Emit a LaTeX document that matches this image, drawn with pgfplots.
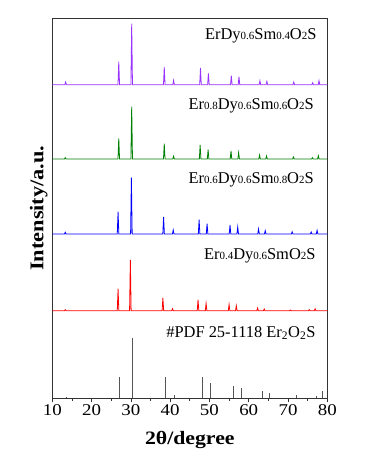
\documentclass[border=0pt]{standalone}
\usepackage{fontspec}
\setmainfont{Liberation Serif}
\newfontfamily\wide{Liberation Serif}[FakeStretch=1.15]
\usepackage{pgfplots}
\usepackage{pgfplotstable}
\pgfplotsset{compat=1.18}
\definecolor{cpur}{RGB}{153,51,255}
\definecolor{cgre}{RGB}{0,128,0}
\definecolor{cblu}{RGB}{0,0,255}
\definecolor{cred}{RGB}{255,0,0}
\definecolor{cpdf}{RGB}{85,85,85}
\newcommand{\s}[1]{{\fontsize{11}{11}\selectfont #1}}

% Er0.4Dy0.6SmO2S (red)
\pgfplotstableread{
x y
10 0
13.1 0
13.3 1
13.5 0
26.54 0
26.74 22
26.94 0
29.67 0
29.87 50.7
30.07 0
37.95 0
38.15 12.7
38.35 0
40.4 0
40.6 2
40.8 0
46.9 0
47.1 11
47.3 0
48.95 0
49.15 7.3
49.35 0
54.8 0
55.0 6.3
55.2 0
56.64 0
56.84 5
57.04 0
62.06 0
62.26 2.7
62.46 0
63.74 0
63.94 1.7
64.14 0
70.4 0
70.6 0.7
70.8 0
75.2 0
75.4 1
75.6 0
76.7 0
76.9 2
77.1 0
80 0
}\redtab

% Er0.6Dy0.6Sm0.8O2S (blue)
\pgfplotstableread{
x y
10 0
13.1 0
13.3 1.7
13.5 0
26.54 0
26.74 22.3
26.94 0
29.93 0
30.13 56.3
30.33 0
38.13 0
38.33 17
38.53 0
40.58 0
40.78 4
40.98 0
47.17 0
47.37 14.3
47.57 0
49.2 0
49.4 10.3
49.6 0
55.04 0
55.24 9
55.44 0
57.0 0
57.2 7
57.4 0
62.3 0
62.5 5
62.7 0
64.0 0
64.2 3.3
64.4 0
70.85 0
71.05 2.3
71.25 0
75.7 0
75.9 2
76.1 0
77.2 0
77.4 3.7
77.6 0
80 0
}\blutab

% Er0.8Dy0.6Sm0.6O2S (green)
\pgfplotstableread{
x y
10 0
13.1 0
13.3 1.3
13.5 0
26.72 0
26.92 20.7
27.12 0
30.01 0
30.21 52.3
30.41 0
38.3 0
38.5 15.3
38.7 0
40.67 0
40.87 2.7
41.07 0
47.43 0
47.63 14
47.83 0
49.46 0
49.66 9.3
49.86 0
55.29 0
55.49 8
55.69 0
57.23 0
57.43 6.3
57.63 0
62.56 0
62.76 4
62.96 0
64.33 0
64.53 3
64.73 0
71.18 0
71.38 2
71.58 0
76.0 0
76.2 1.3
76.4 0
77.52 0
77.72 3.3
77.92 0
80 0
}\gretab

% ErDy0.6Sm0.4O2S (purple)
\pgfplotstableread{
x y
10 0
13.2 0
13.4 2.7
13.6 0
26.72 0
26.92 23
27.12 0
30.01 0
30.21 61
30.41 0
38.3 0
38.5 17.7
38.7 0
40.67 0
40.87 4.3
41.07 0
47.52 0
47.72 16.7
47.92 0
49.54 0
49.74 11.3
49.94 0
55.37 0
55.57 9
55.77 0
57.32 0
57.52 8
57.72 0
62.65 0
62.85 4
63.05 0
64.42 0
64.62 3.3
64.82 0
71.27 0
71.47 2.7
71.67 0
76.08 0
76.28 2
76.48 0
77.69 0
77.89 4
78.09 0
80 0
}\purtab

% PDF 25-1118 Er2O2S reference lines
\pgfplotstableread{
x y
13.47 1.7
27.17 21.3
30.47 60.6
38.9 21.3
41.2 3.3
48.2 21.3
50.25 15.3
56.2 12
58.2 10
63.5 7.3
65.2 5
72.1 3.3
77.1 2.7
78.8 7.3
}\pdftab

\begin{document}
\begin{tikzpicture}
\path[use as bounding box] (0,0) rectangle (374bp,466bp);
\begin{axis}[
  at={(52.3bp,67.7bp)}, anchor=south west,
  scale only axis, width=275bp, height=380.3bp,
  xmin=10, xmax=80, ymin=0, ymax=380.3,
  xtick={10,20,...,80}, minor x tick num=1,
  ytick=\empty, xtick pos=bottom, tick align=outside,
  major tick length=4bp, minor tick length=2.5bp,
  axis line style={line width=0.7bp, black!80},
  every tick/.style={line width=0.7bp, black!80},
  /pgf/number format/assume math mode=true,
  ticklabel style={font=\wide\fontsize{16.5}{18}\selectfont, black},
  xticklabel style={anchor=base, yshift=-13bp},
  xlabel={\textbf{2θ/degree}},
  ylabel={\textbf{Intensity/a.u.}},
  xlabel style={at={([yshift=-46bp]axis description cs:0.5,0)}, anchor=base, font=\wide\fontsize{19}{22}\selectfont},
  ylabel style={at={([xshift=-9bp]axis description cs:0,0.5)}, anchor=base, font=\wide\fontsize{19.5}{22}\selectfont},
  clip=false,
]
\addplot[cred, line width=0.8bp] table[x=x, y expr=\thisrow{y}+87.6] {\redtab};
\addplot[cblu, line width=0.8bp] table[x=x, y expr=\thisrow{y}+164.3] {\blutab};
\addplot[cgre, line width=0.8bp] table[x=x, y expr=\thisrow{y}+239.3] {\gretab};
\addplot[cpur, line width=0.8bp] table[x=x, y expr=\thisrow{y}+313.6] {\purtab};
\addplot[cpdf, ycomb, line width=0.8bp, mark=none] table[x=x, y=y] {\pdftab};

\node[anchor=base east, inner sep=0, font=\fontsize{16.5}{18}\selectfont] at (axis cs:77.3,358.3) {ErDy\s{0.6}Sm\s{0.4}O\s{2}S};
\node[anchor=base east, inner sep=0, font=\fontsize{16.5}{18}\selectfont] at (axis cs:76.6,288.3) {Er\s{0.8}Dy\s{0.6}Sm\s{0.6}O\s{2}S};
\node[anchor=base east, inner sep=0, font=\fontsize{16.5}{18}\selectfont] at (axis cs:76.6,215) {Er\s{0.6}Dy\s{0.6}Sm\s{0.8}O\s{2}S};
\node[anchor=base east, inner sep=0, font=\fontsize{16.5}{18}\selectfont] at (axis cs:77.05,138.3) {Er\s{0.4}Dy\s{0.6}SmO\s{2}S};
\node[anchor=base east, inner sep=0, font=\fontsize{16.5}{18}\selectfont] at (axis cs:77.05,61) {\#PDF 25-1118 Er\textsubscript{2}O\textsubscript{2}S};
\end{axis}
\end{tikzpicture}
\end{document}
